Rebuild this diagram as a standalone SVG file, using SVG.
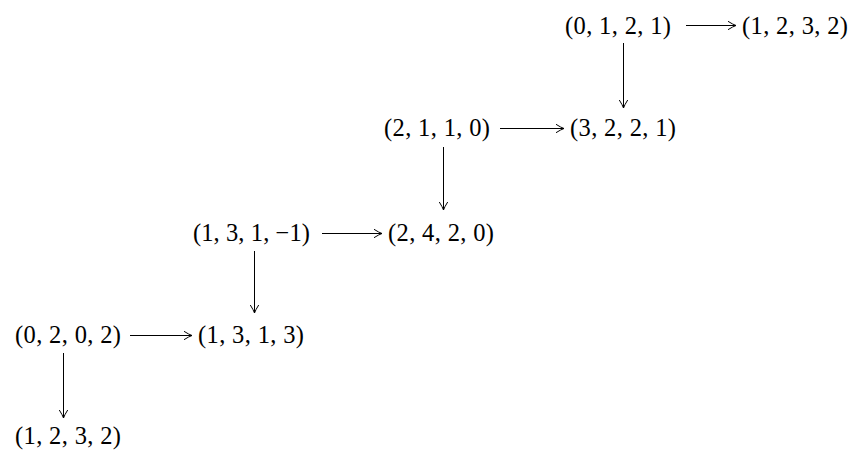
<svg xmlns="http://www.w3.org/2000/svg" width="855" height="450" viewBox="0 0 855 450">
<style>
text{font-family:"Liberation Serif","Times New Roman",serif;font-size:24.5px;fill:#000}
.e{stroke:#000;stroke-width:1;fill:none;marker-end:url(#ah)}
</style>
<defs>
<marker id="ah" markerUnits="userSpaceOnUse" markerWidth="12" markerHeight="12" viewBox="-10 -6 12 12" refX="0" refY="0" orient="auto">
<path d="M-8,-4.2 Q-3,-1 0,0 Q-3,1 -8,4.2" fill="none" stroke="#000" stroke-width="1"/>
</marker>
</defs>
<rect width="855" height="450" fill="#fff"/>
<g id="connectors">
<line class="e" x1="686" y1="25.5" x2="736" y2="25.5"/>
<line class="e" x1="500" y1="128.5" x2="564" y2="128.5"/>
<line class="e" x1="322" y1="233.5" x2="382" y2="233.5"/>
<line class="e" x1="130" y1="335.5" x2="192" y2="335.5"/>
<line class="e" x1="623.5" y1="43" x2="623.5" y2="108"/>
<line class="e" x1="443.5" y1="147" x2="443.5" y2="210"/>
<line class="e" x1="254.5" y1="251" x2="254.5" y2="313"/>
<line class="e" x1="63.5" y1="353" x2="63.5" y2="418"/>
</g>
<g id="n0121"><text x="565" y="34" textLength="106" lengthAdjust="spacing">(0, 1, 2, 1)</text></g>
<g id="n1232a"><text x="742" y="34" textLength="106" lengthAdjust="spacing">(1, 2, 3, 2)</text></g>
<g id="n2110"><text x="384" y="136" textLength="106" lengthAdjust="spacing">(2, 1, 1, 0)</text></g>
<g id="n3221"><text x="570" y="136" textLength="106" lengthAdjust="spacing">(3, 2, 2, 1)</text></g>
<g id="n131m1"><text x="193" y="241" textLength="117" lengthAdjust="spacing">(1, 3, 1, −1)</text></g>
<g id="n2420"><text x="388" y="241" textLength="106" lengthAdjust="spacing">(2, 4, 2, 0)</text></g>
<g id="n0202"><text x="15" y="343" textLength="106" lengthAdjust="spacing">(0, 2, 0, 2)</text></g>
<g id="n1313"><text x="198" y="343" textLength="106" lengthAdjust="spacing">(1, 3, 1, 3)</text></g>
<g id="n1232b"><text x="15" y="444" textLength="106" lengthAdjust="spacing">(1, 2, 3, 2)</text></g>
</svg>
